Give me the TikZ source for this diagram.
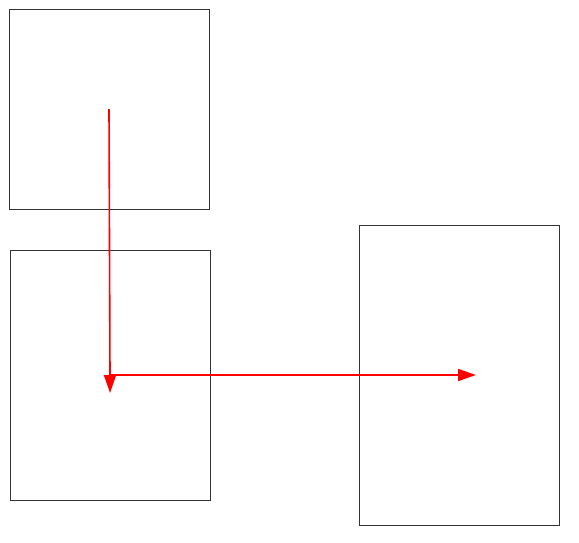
\documentclass[tikz,border=0pt]{standalone}
\usetikzlibrary{arrows.meta}
\tikzstyle{box}=[rectangle, draw=black!80, line width=0.8pt, minimum width=200pt, inner sep=0pt, outer sep=0pt]
\tikzstyle{link}=[draw=red, line width=1.6pt, -{Triangle[length=18pt,width=12pt]}]

\begin{document}
\begin{tikzpicture}[x=1pt, y=-1pt]
\useasboundingbox (0,0) rectangle (579,542);
\node [box, minimum height=200pt] (top) at (109,109) {};
\node [box, minimum height=250pt] (left) at (110,375) {};
\node [box, minimum height=300pt] (right) at (459,375) {};
\draw [link, shorten >=-18pt] (top.center) -- (left.center);
\draw [link, shorten >=-17pt] (left.center) -- (right.center);

\end{tikzpicture}
\end{document}
